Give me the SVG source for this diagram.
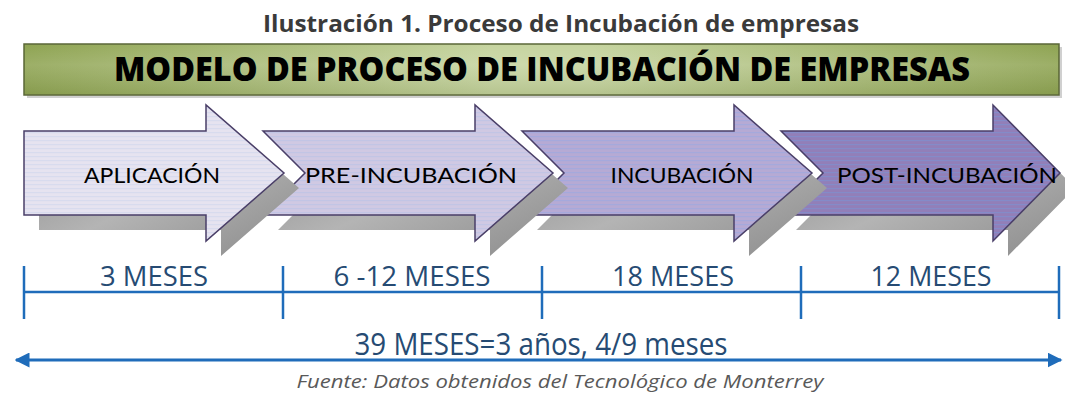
<svg xmlns="http://www.w3.org/2000/svg" width="1065" height="394" viewBox="0 0 1065 394">
  <style>
    .title{font-family:"Open Sans","Liberation Sans",sans-serif;font-weight:bold;font-size:23px;fill:#3a3a3a;text-anchor:middle}
    .banner{font-family:"Open Sans","Liberation Sans",sans-serif;font-weight:800;font-size:33px;fill:#000;text-anchor:middle}
    .lbl{font-family:"Lato","Liberation Sans",sans-serif;font-size:22px;fill:#000;text-anchor:middle}
    .dur{font-family:"Open Sans","Liberation Sans",sans-serif;font-size:28px;fill:#264b73;text-anchor:middle}
    .total{font-family:"Open Sans","Liberation Sans",sans-serif;font-size:31px;fill:#264b73;text-anchor:middle}
    .src{font-family:"Open Sans","Liberation Sans",sans-serif;font-style:italic;font-size:19px;fill:#595959;text-anchor:middle}
    .arrow{stroke:#4a3f68;stroke-width:1.5;stroke-linejoin:miter}
    .shadow{fill:url(#shadowGrad)}
    .tl{stroke:#1f6cba;stroke-width:2.5;fill:none}
  </style>
  <defs>
    <linearGradient id="bannerGrad" x1="0" y1="0" x2="1" y2="0">
      <stop offset="0" stop-color="#8fa453"/>
      <stop offset="0.45" stop-color="#c6d4a0"/>
      <stop offset="0.55" stop-color="#c6d4a0"/>
      <stop offset="1" stop-color="#8fa453"/>
    </linearGradient>
    <linearGradient id="bannerShade" x1="0" y1="0" x2="0" y2="1">
      <stop offset="0" stop-color="#ffffff" stop-opacity="0"/>
      <stop offset="0.4" stop-color="#ffffff" stop-opacity="0.12"/>
      <stop offset="1" stop-color="#5a6a30" stop-opacity="0.15"/>
    </linearGradient>
    <linearGradient id="shadowGrad" x1="0" y1="0" x2="1" y2="1">
      <stop offset="0" stop-color="#8a8a8a"/>
      <stop offset="0.5" stop-color="#b4b4b4"/>
      <stop offset="1" stop-color="#8a8a8a"/>
    </linearGradient>
    <pattern id="p1" patternUnits="userSpaceOnUse" width="8" height="4">
      <rect width="8" height="4" fill="#e6e3f0"/>
      <rect width="8" height="1.2" fill="#d8dbee"/>
    </pattern>
    <pattern id="p2" patternUnits="userSpaceOnUse" width="8" height="4">
      <rect width="8" height="4" fill="#d0c9e3"/>
      <rect width="8" height="1.2" fill="#c2c5e5"/>
    </pattern>
    <pattern id="p3" patternUnits="userSpaceOnUse" width="8" height="4">
      <rect width="8" height="4" fill="#b6aad4"/>
      <rect width="8" height="1.2" fill="#a5a9dc"/>
    </pattern>
    <pattern id="p4" patternUnits="userSpaceOnUse" width="8" height="4">
      <rect width="8" height="4" fill="#927fb8"/>
      <rect width="8" height="1.2" fill="#848bc8"/>
    </pattern>
    <marker id="ah" viewBox="0 0 10 10" refX="9" refY="5" markerWidth="5" markerHeight="5" orient="auto-start-reverse" markerUnits="strokeWidth">
      <path d="M0,0 L10,5 L0,10 Z" fill="#1f6cba"/>
    </marker>
  </defs>

  <rect width="1065" height="394" fill="#ffffff"/>

  <g id="title">
    <text class="title" x="561" y="32" textLength="596" lengthAdjust="spacingAndGlyphs">Ilustración 1. Proceso de Incubación de empresas</text>
  </g>

  <g id="banner">
    <rect x="27" y="47" width="1035" height="51" fill="#d0d0d0"/>
    <rect x="24" y="44" width="1035" height="51" fill="url(#bannerGrad)" stroke="#5b6738" stroke-width="1.5"/>
    <rect x="25" y="45" width="1033" height="49" fill="url(#bannerShade)"/>
    <text class="banner" x="542" y="81" textLength="856" lengthAdjust="spacingAndGlyphs">MODELO DE PROCESO DE INCUBACIÓN DE EMPRESAS</text>
  </g>

  <g id="arrow4">
    <path class="shadow" transform="translate(15,15)" d="M781,131 H993 V105 L1060,173 L993,241 V215 H781 L823,173 Z"/>
    <path class="arrow" fill="url(#p4)" d="M781,131 H993 V105 L1060,173 L993,241 V215 H781 L823,173 Z"/>
    <text class="lbl" x="947" y="183" textLength="220" lengthAdjust="spacingAndGlyphs">POST-INCUBACIÓN</text>
  </g>
  <g id="arrow3">
    <path class="shadow" transform="translate(15,15)" d="M522,131 H734 V105 L812,173 L734,241 V215 H522 L564,173 Z"/>
    <path class="arrow" fill="url(#p3)" d="M522,131 H734 V105 L812,173 L734,241 V215 H522 L564,173 Z"/>
    <text class="lbl" x="682" y="183" textLength="143" lengthAdjust="spacingAndGlyphs">INCUBACIÓN</text>
  </g>
  <g id="arrow2">
    <path class="shadow" transform="translate(15,15)" d="M263,131 H475 V105 L553,173 L475,241 V215 H263 L305,173 Z"/>
    <path class="arrow" fill="url(#p2)" d="M263,131 H475 V105 L553,173 L475,241 V215 H263 L305,173 Z"/>
    <text class="lbl" x="411" y="183" textLength="212" lengthAdjust="spacingAndGlyphs">PRE-INCUBACIÓN</text>
  </g>
  <g id="arrow1">
    <path class="shadow" transform="translate(15,15)" d="M24,131 H206 V105 L284,173 L206,241 V215 H24 Z"/>
    <path class="arrow" fill="url(#p1)" d="M24,131 H206 V105 L284,173 L206,241 V215 H24 Z"/>
    <text class="lbl" x="152" y="183" textLength="136" lengthAdjust="spacingAndGlyphs">APLICACIÓN</text>
  </g>

  <g id="connectors">
    <line class="tl" x1="24" y1="292" x2="1059" y2="292"/>
    <line class="tl" x1="24" y1="266" x2="24" y2="319"/>
    <line class="tl" x1="283" y1="266" x2="283" y2="319"/>
    <line class="tl" x1="542" y1="266" x2="542" y2="319"/>
    <line class="tl" x1="801" y1="266" x2="801" y2="319"/>
    <line class="tl" x1="1059" y1="266" x2="1059" y2="319"/>
    <line x1="16" y1="360" x2="1061" y2="360" stroke="#1f6cba" stroke-width="3" marker-start="url(#ah)" marker-end="url(#ah)"/>
  </g>

  <g id="durations">
    <text class="dur" x="154" y="286" textLength="108" lengthAdjust="spacingAndGlyphs">3 MESES</text>
    <text class="dur" x="412" y="286" textLength="157" lengthAdjust="spacingAndGlyphs">6 -12 MESES</text>
    <text class="dur" x="673" y="286" textLength="122" lengthAdjust="spacingAndGlyphs">18 MESES</text>
    <text class="dur" x="931" y="286" textLength="121" lengthAdjust="spacingAndGlyphs">12 MESES</text>
    <text class="total" x="541" y="355" textLength="373" lengthAdjust="spacingAndGlyphs">39 MESES=3 años, 4/9 meses</text>
  </g>

  <g id="source">
    <text class="src" x="560" y="388" textLength="527" lengthAdjust="spacingAndGlyphs">Fuente: Datos obtenidos del Tecnológico de Monterrey</text>
  </g>
</svg>
